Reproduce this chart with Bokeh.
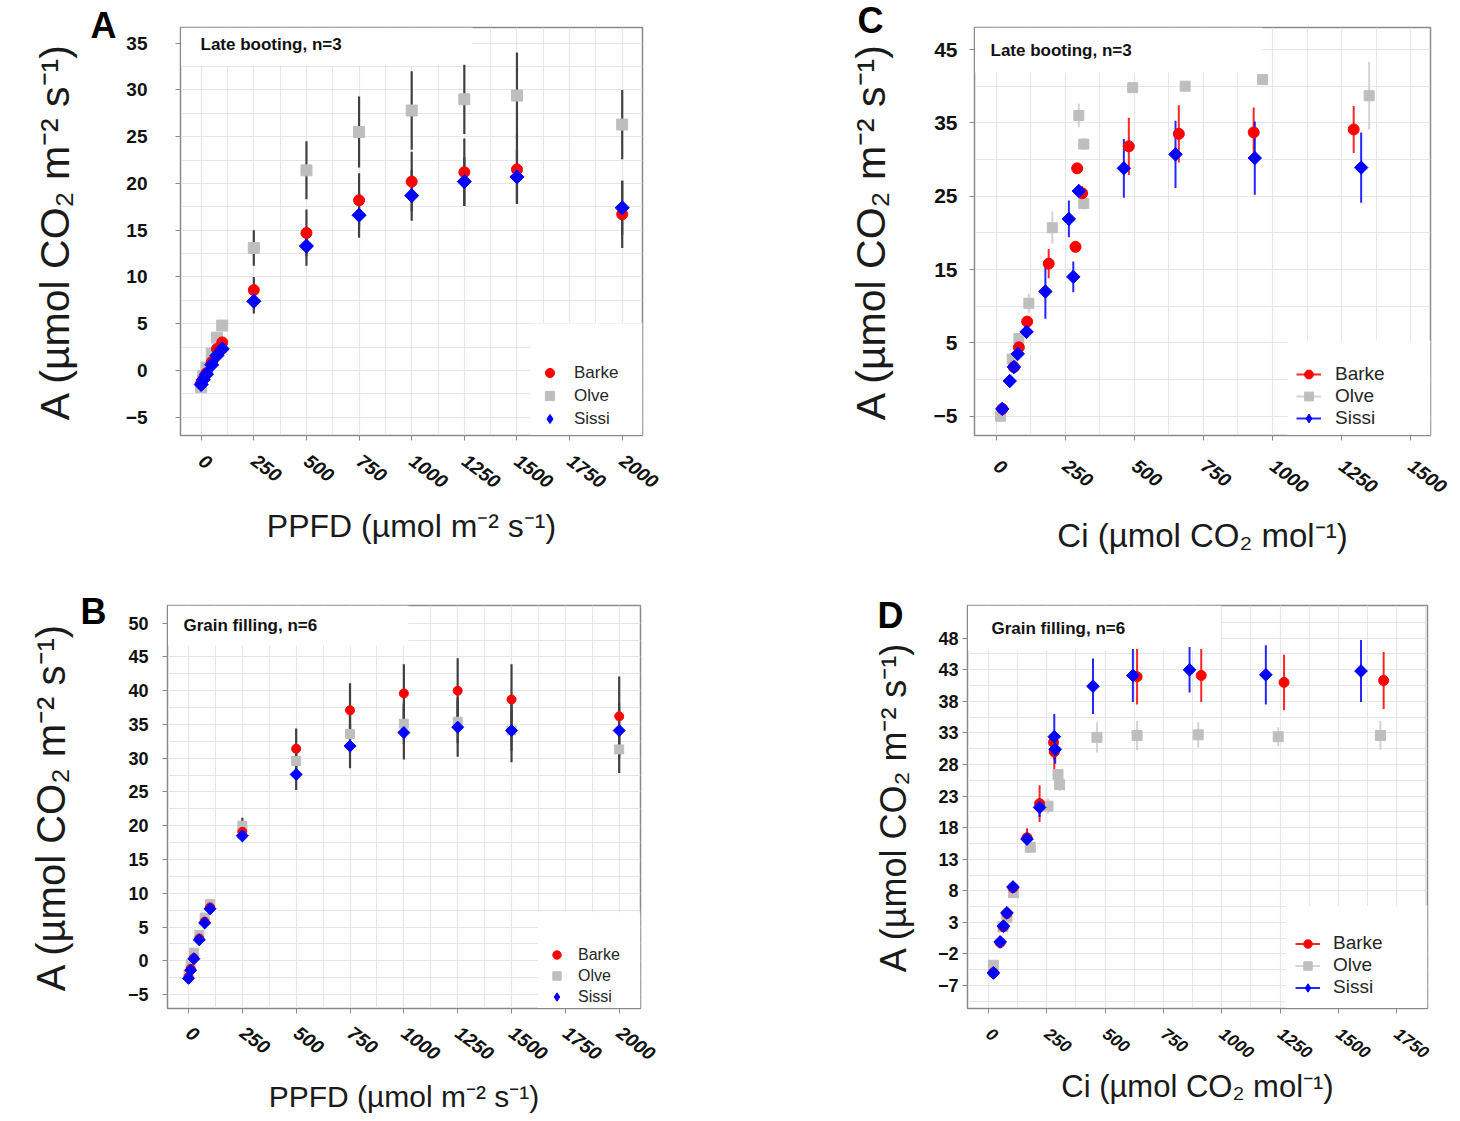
import math
from bokeh.plotting import figure
from bokeh.models import (Range1d, FixedTicker, Label, Legend, LegendItem,
                          BoxAnnotation, ColumnDataSource)
from bokeh.layouts import column, row
from bokeh.embed import file_html
from bokeh.resources import INLINE

# ---------------- DATA ----------------
GENOTYPES = ["Barke", "Olve", "Sissi"]
COLORS = {"Barke": "#ff0000", "Olve": "#bebebe", "Sissi": "#0000ff"}

# Panel A: light response, late booting
PPFD_A = [0, 10, 25, 50, 75, 100, 250, 500, 750, 1000, 1250, 1500, 2000]
A_BARKE_A = [-1.4, -0.9, -0.3, 0.9, 2.3, 3.0, 8.6, 14.7, 18.2, 20.2, 21.2, 21.5, 16.7]
SD_BARKE_A = [0.1, 0.1, 0.2, 0.2, 0.3, 0.4, 1.4, 2.5, 2.9, 3.2, 3.6, 3.7, 3.6]
A_OLVE_A = [-1.8, -0.6, 0.3, 1.8, 3.5, 4.8, 13.1, 21.4, 25.5, 27.8, 29.0, 29.4, 26.3]
SD_OLVE_A = [0.2, 0.2, 0.3, 0.3, 0.4, 0.5, 1.9, 3.1, 3.8, 4.2, 3.7, 4.6, 3.7]
A_SISSI_A = [-1.5, -1.0, -0.4, 0.6, 1.6, 2.3, 7.4, 13.3, 16.6, 18.7, 20.2, 20.7, 17.4]
SD_SISSI_A = [0.1, 0.1, 0.2, 0.2, 0.3, 0.3, 1.3, 2.1, 2.4, 2.7, 2.6, 2.9, 2.9]

# Panel B: light response, grain filling
PPFD_B = [0, 10, 25, 50, 75, 100, 250, 500, 750, 1000, 1250, 1500, 2000]
A_BARKE_B = [-2.4, -1.2, 0.4, 3.3, 5.8, 7.9, 19.1, 31.4, 37.1, 39.6, 40.0, 38.7, 36.2]
SD_BARKE_B = [0.3, 0.3, 0.4, 0.5, 0.5, 0.6, 1.0, 3.0, 4.0, 4.3, 4.8, 5.2, 5.9]
A_OLVE_B = [-2.0, -0.5, 1.2, 3.8, 6.4, 8.4, 20.0, 29.6, 33.6, 35.1, 35.4, 34.1, 31.3]
SD_OLVE_B = [0.3, 0.3, 0.3, 0.4, 0.4, 0.5, 1.2, 2.2, 2.8, 3.0, 3.2, 3.0, 3.5]
A_SISSI_B = [-2.6, -1.4, 0.3, 3.1, 5.6, 7.7, 18.5, 27.6, 31.8, 33.8, 34.6, 34.1, 34.1]
SD_SISSI_B = [0.3, 0.3, 0.3, 0.4, 0.4, 0.5, 0.8, 2.3, 3.3, 4.0, 4.4, 4.7, 4.0]

# Panel C: CO2 response, late booting
CI_BARKE_C = [22, 64, 82, 112, 190, 287, 293, 311, 480, 661, 932, 1294]
A_BARKE_C = [-4.0, 1.7, 4.4, 7.9, 15.8, 18.1, 28.8, 25.4, 31.8, 33.5, 33.7, 34.1]
SD_BARKE_C = [0.3, 0.4, 0.5, 0.7, 2.0, 0.6, 0.7, 1.0, 3.9, 3.9, 3.4, 3.2]
CI_OLVE_C = [16, 58, 82, 118, 203, 299, 317, 317, 494, 684, 964, 1350]
A_OLVE_C = [-5.0, 2.8, 5.6, 10.4, 20.7, 36.0, 32.1, 24.0, 39.8, 40.0, 40.9, 38.7]
SD_OLVE_C = [0.3, 0.4, 0.5, 1.3, 2.2, 1.6, 0.8, 0.8, 0.6, 0.5, 0.5, 4.6]
CI_SISSI_C = [22, 49, 64, 78, 110, 178, 263, 279, 299, 462, 649, 936, 1321]
A_SISSI_C = [-4.0, -0.2, 1.7, 3.5, 6.5, 12.0, 21.9, 14.0, 25.7, 28.8, 30.7, 30.2, 28.9]
SD_SISSI_C = [0.3, 0.3, 0.4, 0.5, 0.7, 3.7, 2.5, 2.1, 0.6, 4.0, 4.6, 5.0, 4.8]

# Panel D: CO2 response, grain filling
CI_BARKE_D = [21, 50, 64, 79, 105, 165, 219, 279, 282, 637, 912, 1267, 1694]
A_BARKE_D = [-5.0, -0.2, 2.3, 4.4, 8.5, 16.4, 21.8, 31.5, 30.0, 41.9, 42.1, 41.0, 41.3]
SD_BARKE_D = [0.3, 0.3, 0.4, 0.5, 0.6, 1.5, 2.9, 1.0, 3.0, 4.4, 4.2, 4.4, 4.5]
CI_OLVE_D = [21, 62, 79, 107, 179, 255, 298, 305, 465, 637, 899, 1242, 1680]
A_OLVE_D = [-3.8, 2.3, 3.8, 7.7, 14.9, 21.4, 26.4, 24.8, 32.3, 32.6, 32.7, 32.4, 32.6]
SD_OLVE_D = [0.3, 0.3, 0.4, 0.5, 0.6, 1.2, 0.8, 1.0, 2.4, 2.3, 2.0, 1.5, 2.3]
CI_SISSI_D = [21, 50, 64, 79, 105, 165, 219, 282, 286, 448, 619, 862, 1189, 1597]
A_SISSI_D = [-5.0, -0.1, 2.4, 4.5, 8.6, 16.2, 21.2, 32.4, 30.4, 40.4, 42.1, 43.0, 42.2, 42.8]
SD_SISSI_D = [0.3, 0.3, 0.4, 0.5, 0.6, 1.0, 1.5, 3.6, 2.3, 4.4, 4.2, 3.6, 4.7, 4.9]

Y_TICKS_A = [-5, 0, 5, 10, 15, 20, 25, 30, 35]
Y_TICKS_B = [-5, 0, 5, 10, 15, 20, 25, 30, 35, 40, 45, 50]
Y_TICKS_C = [-5, 5, 15, 25, 35, 45]
Y_TICKS_D = [-7, -2, 3, 8, 13, 18, 23, 28, 33, 38, 43, 48]
X_TICKS_PPFD = [0, 250, 500, 750, 1000, 1250, 1500, 1750, 2000]
X_TICKS_C = [0, 250, 500, 750, 1000, 1250, 1500]
X_TICKS_D = [0, 250, 500, 750, 1000, 1250, 1500, 1750]

Y_LABEL = "A (µmol CO₂ m⁻² s⁻¹)"
X_LABEL_PPFD = "PPFD (µmol m⁻² s⁻¹)"
X_LABEL_CI = "Ci (µmol CO₂ mol⁻¹)"

FONT = "Liberation Sans"
GRID = "#e6e6e6"
FRAME = "#8a8a8a"


def midpoints(ticks, lo, hi):
    step = ticks[1] - ticks[0]
    out = []
    t = ticks[0] - step / 2.0
    while t <= hi:
        if t >= lo:
            out.append(t)
        t += step
    return out


def make_panel(cfg):
    xr, yr = cfg["xr"], cfg["yr"]
    p = figure(width=cfg["w"], height=cfg["h"],
               x_range=Range1d(*xr), y_range=Range1d(*yr),
               output_backend="svg", toolbar_location=None,
               min_border_left=cfg["bl"], min_border_right=cfg["br"],
               min_border_top=cfg["bt"], min_border_bottom=cfg["bb"],
               background_fill_color="white", border_fill_color="white")
    # panel letter as the plot title, pulled down beside the frame
    p.title.text = cfg["letter"]
    p.title.text_font = FONT
    p.title.text_font_style = "bold"
    p.title.text_font_size = "36px"
    p.title.text_color = "#000000"
    p.title.align = "left"
    p.title.offset = cfg["let_dx"]
    p.title.standoff = cfg["let_std"]

    xt = FixedTicker(ticks=cfg["xt"], minor_ticks=midpoints(cfg["xt"], xr[0], xr[1]))
    yt = FixedTicker(ticks=cfg["yt"], minor_ticks=midpoints(cfg["yt"], yr[0], yr[1]))
    p.xaxis.ticker = xt
    p.xgrid.ticker = xt
    p.yaxis.ticker = yt
    p.ygrid.ticker = yt
    for g in (p.xgrid[0], p.ygrid[0]):
        g.grid_line_color = GRID
        g.grid_line_width = 1.2
        g.minor_grid_line_color = GRID
        g.minor_grid_line_width = 1
    p.outline_line_color = FRAME
    p.outline_line_width = 1.5
    for ax in (p.xaxis[0], p.yaxis[0]):
        ax.axis_line_color = FRAME
        ax.major_tick_line_color = FRAME
        ax.major_tick_out = 5
        ax.major_tick_in = 0
        ax.minor_tick_line_color = None
        ax.axis_label_text_font = FONT
        ax.axis_label_text_font_style = "normal"
        ax.axis_label_text_color = "#1a1a1a"
        ax.major_label_text_font = FONT
        ax.major_label_text_color = "#111111"
    xa, ya = p.xaxis[0], p.yaxis[0]
    xa.axis_label = cfg["xlabel"]
    ya.axis_label = Y_LABEL
    xa.major_label_text_font_style = "bold italic"
    xa.major_label_text_font_size = cfg["xtick_fs"]
    xa.major_label_orientation = -0.65
    xa.major_label_standoff = cfg["x_std"]
    xa.axis_label_standoff = cfg["xl_std"]
    xa.axis_label_text_font_size = cfg["xl_fs"]
    ya.major_label_text_font_style = "bold"
    ya.major_label_text_font_size = cfg["ytick_fs"]
    ya.major_label_standoff = cfg["y_std"]
    ya.axis_label_standoff = cfg["yl_std"]
    ya.axis_label_text_font_size = cfg["yl_fs"]

    fw = cfg["w"] - cfg["bl"] - cfg["br"]
    fh = cfg["h"] - cfg["bt"] - cfg["bb"]

    def white_box(l, r, b, t):
        sx = (xr[1] - xr[0]) / fw
        sy = (yr[1] - yr[0]) / fh
        p.add_layout(BoxAnnotation(left=xr[0] + l * sx, right=xr[0] + r * sx,
                                   bottom=yr[0] + b * sy, top=yr[0] + t * sy,
                                   fill_color="white", fill_alpha=1.0,
                                   line_color=None, level="underlay"))

    tb = cfg["title_box"]
    white_box(0, tb[0], fh - tb[1], fh)
    lb = cfg["legend_box"]
    white_box(lb[0], fw, 0, lb[1])

    # series
    srcs = {}
    for name in GENOTYPES:
        x, y, sd = cfg["data"][name]
        srcs[name] = ColumnDataSource(dict(x=x, y=y,
                                           lo=[a - s for a, s in zip(y, sd)],
                                           hi=[a + s for a, s in zip(y, sd)]))
    segs = {}
    for name in ["Olve", "Barke", "Sissi"]:
        bc = cfg["bar_color"] or COLORS[name]
        if cfg["bar_color"] is None and name == "Olve":
            bc = "#cccccc"
        segs[name] = p.segment(x0="x", y0="lo", x1="x", y1="hi", source=srcs[name],
                               line_color=bc, line_width=cfg["bar_w"],
                               line_alpha=cfg["bar_alpha"])
    marks = {}
    ms = cfg["msize"]
    marks["Olve"] = p.scatter("x", "y", source=srcs["Olve"], marker="square",
                              size=ms[1], fill_color=COLORS["Olve"],
                              line_color=COLORS["Olve"])
    marks["Barke"] = p.scatter("x", "y", source=srcs["Barke"], marker="circle",
                               size=ms[0], fill_color=COLORS["Barke"],
                               line_color=COLORS["Barke"])
    # diamond glyph (used for the legend key); hidden beneath the rotated squares
    diamond_key = p.scatter("x", "y", source=srcs["Sissi"], marker="diamond",
                            size=ms[2] * 1.3, fill_color=COLORS["Sissi"],
                            line_color=COLORS["Sissi"])
    marks["Sissi"] = p.scatter("x", "y", source=srcs["Sissi"], marker="square",
                               angle=math.pi / 4, size=ms[2],
                               fill_color=COLORS["Sissi"], line_color=COLORS["Sissi"])
    legend_marks = {"Barke": marks["Barke"], "Olve": marks["Olve"], "Sissi": diamond_key}

    items = []
    for name in GENOTYPES:
        rends = [legend_marks[name]]
        if cfg["legend_lines"]:
            rends = [segs[name], legend_marks[name]]
        items.append(LegendItem(label=name, renderers=rends))
    lg = cfg["legend"]
    legend = Legend(items=items, location=(lg["vx"], lg["vy"]), margin=0,
                    padding=0, spacing=0,
                    glyph_width=lg["gw"], glyph_height=lg["gh"],
                    label_standoff=lg["std"], label_height=lg["gh"],
                    label_text_font=FONT, label_text_font_size=lg["fs"],
                    label_text_color="#262626",
                    background_fill_color="white", background_fill_alpha=1.0,
                    border_line_color=None)
    p.add_layout(legend)

    # panel title inside frame
    p.add_layout(Label(x=xr[0], y=yr[1], x_offset=cfg["title_dx"], y_offset=-cfg["title_dy"],
                       text=cfg["title"], text_font=FONT, text_font_style="bold",
                       text_font_size="17px", text_color="#111111",
                       text_baseline="top", text_align="left"))
    return p


cfg_A = dict(w=730, h=585, bl=180, br=88, bt=27, bb=150,
             xr=(-98.3, 2096.4), yr=(-6.96, 36.68), xt=X_TICKS_PPFD, yt=Y_TICKS_A,
             xlabel=X_LABEL_PPFD, xtick_fs="19px", x_std=18, xl_std=11, xl_fs="32px",
             ytick_fs="19px", y_std=28, yl_std=45, yl_fs="41px",
             title_box=(292, 38), legend_box=(350, 112),
             data={"Barke": (PPFD_A, A_BARKE_A, SD_BARKE_A),
                   "Olve": (PPFD_A, A_OLVE_A, SD_OLVE_A),
                   "Sissi": (PPFD_A, A_SISSI_A, SD_SISSI_A)},
             bar_color="#404040", bar_w=2.2, bar_alpha=1.0, msize=(11, 11, 10),
             legend_lines=False,
             legend=dict(vx=358, vy=5, gw=23, gh=23, std=13, fs="17px"),
             title="Late booting, n=3", title_dx=20, title_dy=7,
             letter="A", let_dx=-90, let_std=-37)

cfg_C = dict(w=725, h=585, bl=244, br=25, bt=27, bb=150,
             xr=(-78.6, 1572), yr=(-7.63, 48.0), xt=X_TICKS_C, yt=Y_TICKS_C,
             xlabel=X_LABEL_CI, xtick_fs="19px", x_std=23, xl_std=15, xl_fs="33px",
             ytick_fs="21px", y_std=12, yl_std=37, yl_fs="41px",
             title_box=(288, 45), legend_box=(313, 95),
             data={"Barke": (CI_BARKE_C, A_BARKE_C, SD_BARKE_C),
                   "Olve": (CI_OLVE_C, A_OLVE_C, SD_OLVE_C),
                   "Sissi": (CI_SISSI_C, A_SISSI_C, SD_SISSI_C)},
             bar_color=None, bar_w=2, bar_alpha=0.85, msize=(11, 10, 9.5),
             legend_lines=True,
             legend=dict(vx=322, vy=6, gw=25, gh=22, std=14, fs="19px"),
             title="Late booting, n=3", title_dx=16, title_dy=13,
             letter="C", let_dx=-117, let_std=-27)

cfg_B = dict(w=730, h=533, bl=167, br=90, bt=20, bb=110,
             xr=(-97.6, 2099), yr=(-7.07, 52.62), xt=X_TICKS_PPFD, yt=Y_TICKS_B,
             xlabel=X_LABEL_PPFD, xtick_fs="19px", x_std=17, xl_std=11, xl_fs="30px",
             ytick_fs="18px", y_std=14, yl_std=52, yl_fs="40px",
             title_box=(241, 40), legend_box=(370, 96),
             data={"Barke": (PPFD_B, A_BARKE_B, SD_BARKE_B),
                   "Olve": (PPFD_B, A_OLVE_B, SD_OLVE_B),
                   "Sissi": (PPFD_B, A_SISSI_B, SD_SISSI_B)},
             bar_color="#404040", bar_w=2.2, bar_alpha=1.0, msize=(9, 9, 8.5),
             legend_lines=False,
             legend=dict(vx=379, vy=1, gw=21, gh=21, std=11, fs="16px"),
             title="Grain filling, n=6", title_dx=16, title_dy=10,
             letter="B", let_dx=-87, let_std=-53)

cfg_D = dict(w=725, h=533, bl=237, br=28, bt=20, bb=110,
             xr=(-90, 1882), yr=(-10.64, 53.18), xt=X_TICKS_D, yt=Y_TICKS_D,
             xlabel=X_LABEL_CI, xtick_fs="17px", x_std=18, xl_std=2, xl_fs="31px",
             ytick_fs="18px", y_std=4, yl_std=21, yl_fs="36px",
             title_box=(253, 45), legend_box=(318, 103),
             data={"Barke": (CI_BARKE_D, A_BARKE_D, SD_BARKE_D),
                   "Olve": (CI_OLVE_D, A_OLVE_D, SD_OLVE_D),
                   "Sissi": (CI_SISSI_D, A_SISSI_D, SD_SISSI_D)},
             bar_color=None, bar_w=2, bar_alpha=0.85, msize=(10, 10, 9),
             legend_lines=True,
             legend=dict(vx=328, vy=10, gw=25, gh=21, std=13, fs="19px"),
             title="Grain filling, n=6", title_dx=24, title_dy=13,
             letter="D", let_dx=-90, let_std=-61)

pA = make_panel(cfg_A)
pC = make_panel(cfg_C)
pB = make_panel(cfg_B)
pD = make_panel(cfg_D)

layout = column(row(pA, pC), row(pB, pD))
open("out.html", "w").write(file_html(layout, INLINE))
